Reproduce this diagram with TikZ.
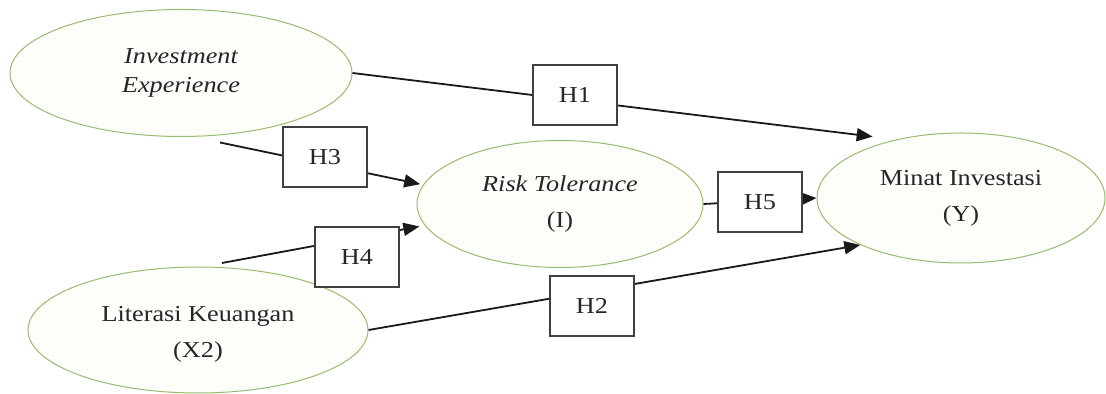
\documentclass[tikz,border=0pt]{standalone}
\usepackage{fontspec}
\setmainfont{Liberation Serif}[FakeStretch=1.15]
\usetikzlibrary{shapes.geometric, arrows.meta, positioning, calc}
\definecolor{garisoval}{RGB}{150,188,112}
\definecolor{isioval}{RGB}{253,254,250}

\begin{document}
\begin{tikzpicture}[x=0.5pt, y=-0.5pt,
        oval/.style={ellipse, draw=garisoval, fill=isioval, line width=0.5pt, inner sep=0pt, align=center, text=black!85, font=\fontsize{11.4}{18}\selectfont},
        hbox/.style={rectangle, draw=black!75, fill=white, line width=0.7pt, minimum width=42pt, minimum height=30pt, inner sep=0pt, text=black!85, font=\fontsize{11.4}{16}\selectfont},
        wire/.style={draw=black!90, line width=0.9pt, -{Triangle[length=8pt, width=6.5pt]}}
    ]
        \useasboundingbox (0,0) rectangle (1106,394);

        % Variabel penelitian
        \node [oval, minimum width=171pt, minimum height=63.5pt, font=\fontsize{11.4}{14.7}\selectfont\itshape] (exp) at (181, 73) {Investment\\Experience};
        \node [oval, minimum width=143pt, minimum height=63.5pt] (risk) at (560, 204) {\textit{Risk Tolerance}\\(I)};
        \node [oval, minimum width=144pt, minimum height=65pt] (minat) at (961, 198) {Minat Investasi\\(Y)};
        \node [oval, minimum width=170pt, minimum height=63pt] (lit) at (198, 330) {\rule{0pt}{12.3pt}Literasi Keuangan\\(X2)};

        % Jalur hipotesis
        \draw [wire, shorten >=11.75pt] (exp.east) -- (minat.138);
        \draw [wire] (lit.east) -- (minat.205);
        \draw [wire, shorten >=1.5pt] ([xshift=19.5pt, yshift=-2.75pt]exp.south) -- (risk.172);
        \draw [wire, shorten >=2.75pt] ([xshift=12pt, yshift=1.75pt]lit.north) -- (risk.189);
        \draw [wire] (risk.east) -- (minat.west);

        % Label hipotesis
        \node [hbox] (h1) at (575, 95) {H1};
        \node [hbox] (h2) at (592, 306) {H2};
        \node [hbox] (h3) at (325, 157) {H3};
        \node [hbox] (h4) at (357, 257) {H4};
        \node [hbox] (h5) at (760, 202) {H5};
    \end{tikzpicture}
\end{document}
